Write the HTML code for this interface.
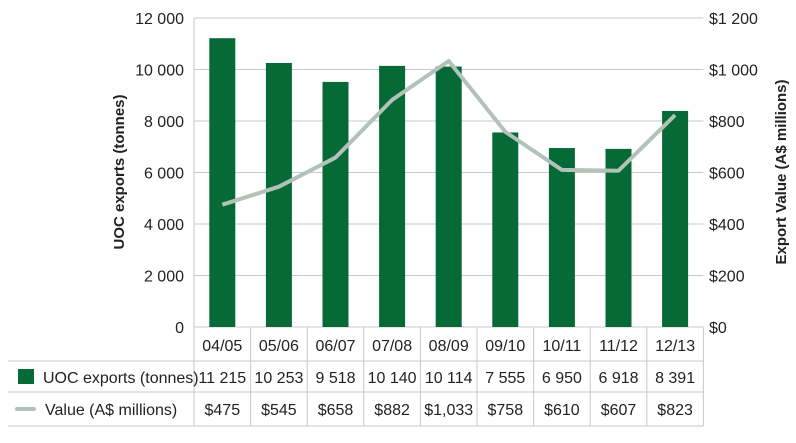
<!DOCTYPE html>
<html><head><meta charset="utf-8"><style>
body{margin:0;background:#fff;}
svg text{font-family:"Liberation Sans",sans-serif;fill:#222;}
</style></head><body>
<svg width="796" height="438" viewBox="0 0 796 438">
<g id="grid"></g><g id="bars"></g><g id="line"></g><g id="axes"></g><g id="table"></g>
</svg>
<script>
const categories=["04/05","05/06","06/07","07/08","08/09","09/10","10/11","11/12","12/13"];
const tonnes=[11215,10253,9518,10140,10114,7555,6950,6918,8391];
const values=[475,545,658,882,1033,758,610,607,823];
const tonneLabels=["11 215","10 253","9 518","10 140","10 114","7 555","6 950","6 918","8 391"];
const valueLabels=["$475","$545","$658","$882","$1,033","$758","$610","$607","$823"];
const leftTicks=[0,2000,4000,6000,8000,10000,12000];
const leftTickLabels=["0","2 000","4 000","6 000","8 000","10 000","12 000"];
const rightTicks=[0,200,400,600,800,1000,1200];
const rightTickLabels=["$0","$200","$400","$600","$800","$1 000","$1 200"];
const NS="http://www.w3.org/2000/svg";
const X0=194,CW=56.6,Y0=327,Y1=18;
const yL=v=>Y0-(v/12000)*(Y0-Y1);
const yR=v=>Y0-(v/1200)*(Y0-Y1);
const xC=i=>X0+CW*i+CW/2;
function mk(p,tag,a,txt){const e=document.createElementNS(NS,tag);for(const k in a)e.setAttribute(k,a[k]);if(txt!==undefined)e.textContent=txt;document.getElementById(p).appendChild(e);return e;}
leftTicks.forEach((t,i)=>{
 const g=mk("grid","line",{x1:X0,x2:X0+CW*9,y1:yL(t),y2:yL(t),stroke:"#c8c8c8","stroke-width":1});
 
 
 const l=mk("axes","text",{x:184,y:yL(t)+6,"text-anchor":"end","font-size":16},leftTickLabels[i]);
 
 
});
rightTicks.forEach((t,i)=>{
 const l=mk("axes","text",{x:709,y:yR(t)+6,"font-size":16},rightTickLabels[i]);
 
 
});
mk("axes","line",{x1:X0,x2:X0,y1:Y1,y2:Y0,stroke:"#c8c8c8"});
const lt=mk("axes","text",{transform:"translate(124,172) rotate(-90)","text-anchor":"middle","font-size":15,"font-weight":"bold"},"UOC exports (tonnes)");


const rt=mk("axes","text",{transform:"translate(786,172) rotate(-90)","text-anchor":"middle","font-size":15,"font-weight":"bold"},"Export Value (A$ millions)");


tonnes.forEach((v,i)=>{
 const b=mk("bars","rect",{x:xC(i)-13,y:yL(v),width:26,height:Y0-yL(v),fill:"#066a37"});
 
 
});
const pl=mk("line","polyline",{points:values.map((v,i)=>xC(i)+","+yR(v)).join(" "),fill:"none",stroke:"#b2c2b9","stroke-width":4,"stroke-linejoin":"round"});


// table
const rows=[327,361,392,426];
[361,392,426].forEach(y=>mk("table","line",{x1:8,x2:X0+CW*9,y1:y,y2:y,stroke:"#c8c8c8"}));
for(let i=0;i<=9;i++)mk("table","line",{x1:X0+CW*i,x2:X0+CW*i,y1:Y0,y2:426,stroke:"#c8c8c8"});
categories.forEach((c,i)=>{
 const t=mk("table","text",{x:xC(i),y:351,"text-anchor":"middle","font-size":16},c);
 
 
 const a=mk("table","text",{x:xC(i),y:383,"text-anchor":"middle","font-size":16},tonneLabels[i]);
 
 
 const b=mk("table","text",{x:xC(i),y:415,"text-anchor":"middle","font-size":16},valueLabels[i]);
 
 
});
const s1=mk("table","rect",{x:18,y:369,width:16,height:15,fill:"#066a37"});


const l1=mk("table","text",{x:43,y:383,"font-size":16},"UOC exports (tonnes)");


const s2=mk("table","line",{x1:17,x2:34,y1:409,y2:409,stroke:"#b2c2b9","stroke-width":4,"stroke-linecap":"round"});


const l2=mk("table","text",{x:45,y:415,"font-size":16},"Value (A$ millions)");


</script>
</body></html>
